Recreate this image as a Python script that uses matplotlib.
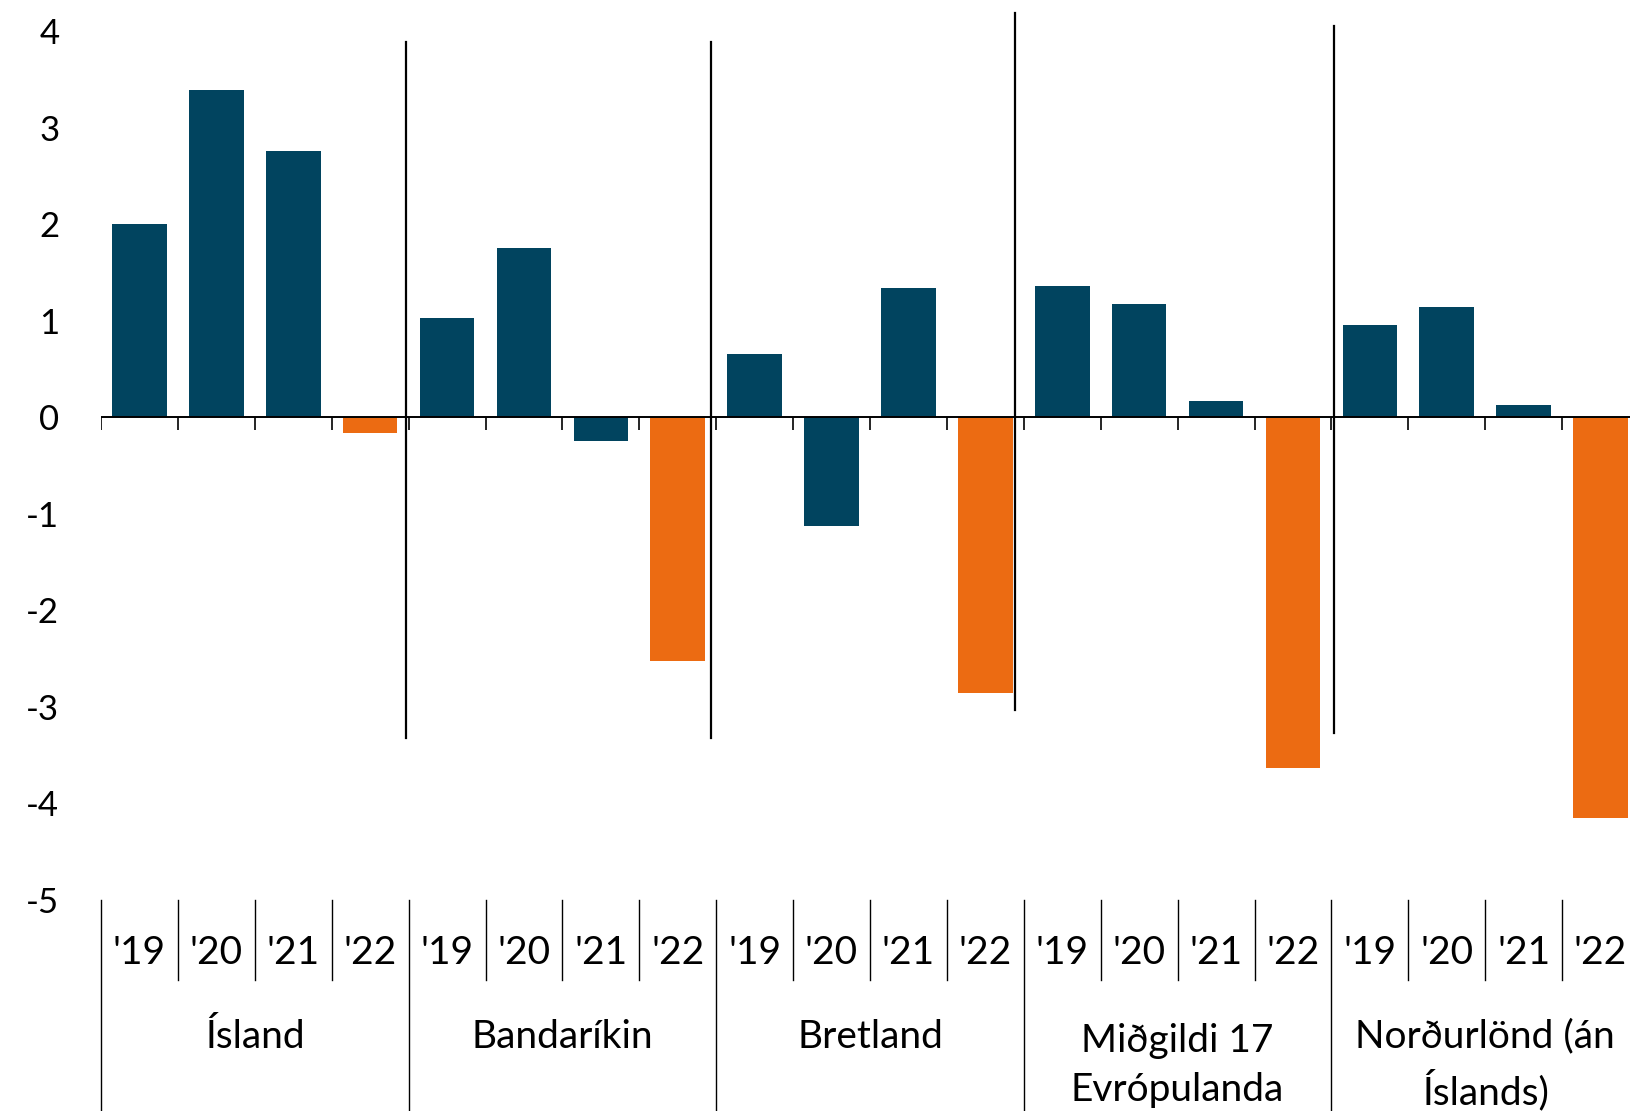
import matplotlib
matplotlib.use('Agg')
import matplotlib.pyplot as plt
import numpy as np

plt.rcParams['font.family'] = ['Lato', 'DejaVu Sans']
plt.rcParams['axes.unicode_minus'] = False

groups = ['Ísland', 'Bandaríkin', 'Bretland', 'Miðgildi 17\nEvrópulanda', 'Norðurlönd (án\nÍslands)']
years = ["'19", "'20", "'21", "'22"]
island = [2.00, 3.39, 2.76, -0.16]
bandarikin = [1.03, 1.75, -0.25, -2.52]
bretland = [0.65, -1.13, 1.34, -2.86]
midgildi = [1.36, 1.17, 0.17, -3.63]
nordurlond = [0.96, 1.14, 0.13, -4.15]

series = [island, bandarikin, bretland, midgildi, nordurlond]
values = [v for s in series for v in s]
colors = ['#01445F' if i % 4 != 3 else '#EC6B12' for i in range(len(values))]
x = np.arange(len(values))

W, H = 1630, 1111
fig = plt.figure(figsize=(W / 100, H / 100), dpi=100)
# axes reaches past the right edge, like the source
ax = fig.add_axes([101 / W, (H - 900) / H, 1538 / W, 869 / H])
ax.bar(x, values, width=0.71, color=colors, zorder=2)
ax.set_xlim(-0.5, len(values) - 0.5)
ax.set_ylim(-5, 4)
for s in ax.spines.values():
    s.set_visible(False)
ax.set_xticks([])
ax.set_yticks(range(-5, 5))
ax.tick_params(axis='y', length=0, pad=30, labelsize=25)

# zero line with ticks between categories
ax.axhline(0, color='black', lw=1.4, zorder=3)
bounds = np.arange(len(values) + 1) - 0.5
ax.vlines(bounds, -0.135, 0, color='black', lw=1.2, zorder=3)

# tall separators between countries
seps = [(3.47, 3.89, -3.32), (7.43, 3.89, -3.32), (11.39, 4.19, -3.03), (15.54, 4.05, -3.27)]
for sx, top, bot in seps:
    ax.plot([sx, sx], [bot, top], color='black', lw=1.6, clip_on=False, zorder=4)

# category table below the plot
for i, b in enumerate(bounds):
    low = -7.3 if i % 4 == 0 else -5.83
    ax.plot([b, b], [-5, low], color='black', lw=1.0, clip_on=False)
for i in x:
    ax.text(i, -5.55, years[i % 4], ha='center', va='center', fontsize=28, clip_on=False)
for g, name in enumerate(groups):
    yy = -6.71 if '\n' in name else -6.42
    ax.text(g * 4 + 1.5, yy, name, ha='center', va='center', fontsize=28,
            linespacing=1.45, clip_on=False)

fig.savefig('out.png', dpi=100)
